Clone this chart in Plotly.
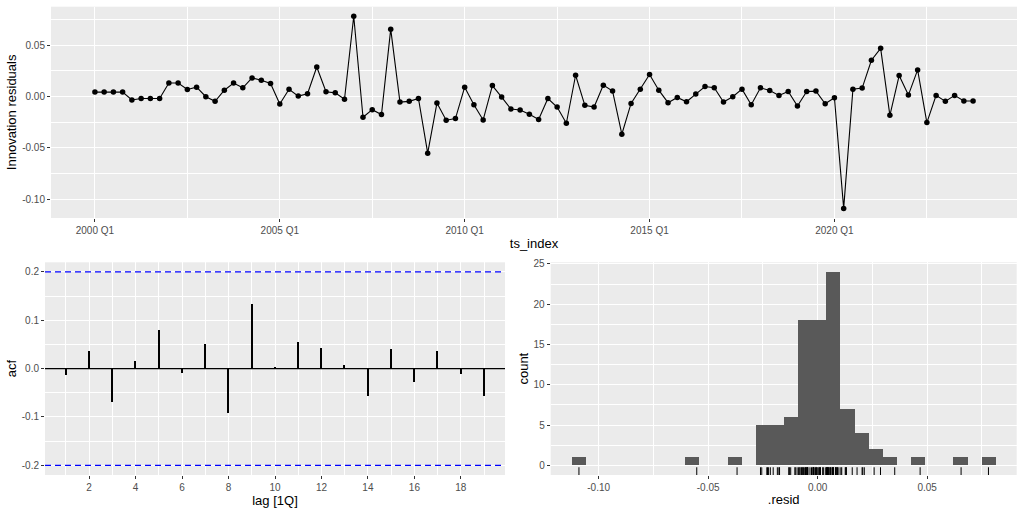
import numpy as np
import plotly.graph_objects as go

# ---------------- data ----------------
years = list(range(2000, 2024))
quarters = [f"{y} Q{q}" for y in years for q in range(1, 5)]

resid = [
    0.0042, 0.0042, 0.0042, 0.0042, -0.0035, -0.0020, -0.0020, -0.0020,
    0.0130, 0.0130, 0.0068, 0.0090, -0.0003, -0.0048, 0.0060, 0.0130,
    0.0084, 0.0180, 0.0158, 0.0126, -0.0074, 0.0070, 0.0003, 0.0026,
    0.0287, 0.0045, 0.0035, -0.0028, 0.0780, -0.0203, -0.0129, -0.0177,
    0.0655, -0.0055, -0.0048, -0.0020, -0.0552, -0.0065, -0.0232, -0.0216,
    0.0090, -0.0081, -0.0229, 0.0106, -0.0006, -0.0123, -0.0132, -0.0174,
    -0.0224, -0.0020, -0.0103, -0.0261, 0.0206, -0.0087, -0.0103, 0.0110,
    0.0052, -0.0368, -0.0068, 0.0071, 0.0213, 0.0061, -0.0061, -0.0010,
    -0.0052, 0.0023, 0.0097, 0.0084, -0.0055, -0.0003, 0.0071, -0.0081,
    0.0084, 0.0058, 0.0010, 0.0048, -0.0094, 0.0048, 0.0052, -0.0071,
    -0.0013, -0.1090, 0.0071, 0.0081, 0.0352, 0.0468, -0.0184, 0.0203,
    0.0013, 0.0258, -0.0255, 0.0010, -0.0048, 0.0010, -0.0045, -0.0045,
]

acf_lags = list(range(1, 20))
acf_values = [-0.0145, 0.0366, -0.0690, 0.0145, 0.0800, -0.0097, 0.0500,
              -0.0920, 0.1330, 0.0010, 0.0540, 0.0430, 0.0076, -0.0566,
              0.0400, -0.0280, 0.0360, -0.0124, -0.0580]

top_x_ticklabels = ["2000 Q1", "2005 Q1", "2010 Q1", "2015 Q1", "2020 Q1"]
top_y_ticks = [-0.10, -0.05, 0.00, 0.05]
top_y_ticklabels = ["-0.10", "-0.05", "0.00", "0.05"]
acf_x_ticks = [2, 4, 6, 8, 10, 12, 14, 16, 18]
acf_y_ticks = [-0.2, -0.1, 0.0, 0.1, 0.2]
acf_y_ticklabels = ["-0.2", "-0.1", "0.0", "0.1", "0.2"]
hist_x_ticks = [-0.10, -0.05, 0.00, 0.05]
hist_x_ticklabels = ["-0.10", "-0.05", "0.00", "0.05"]
hist_y_ticks = [0, 5, 10, 15, 20, 25]

# ---------------- derived ----------------
r = np.array(resid)
n = len(r)
idx = np.arange(n)
ci = 1.96 / np.sqrt(n)

nbins = 30
bw = (r.max() - r.min()) / (nbins - 1)
bstart = r.min() - bw / 2
bend = r.max() + bw / 2
counts, _ = np.histogram(r, bins=np.linspace(bstart, bend, nbins + 1))

def expand(lo, hi, f=0.05):
    s = hi - lo
    return [lo - f * s, hi + f * s]

top_xr = expand(0, n - 1)
top_yr = expand(r.min(), r.max())
acf_xr = expand(min(acf_lags), max(acf_lags))
acf_yr = expand(-ci, ci)
hist_xr = expand(bstart, bend)
hist_yr = expand(0, counts.max())
rug_y = hist_yr[0] + 0.015 * (hist_yr[1] - hist_yr[0])

top_tickvals = [quarters.index(t) for t in top_x_ticklabels]
top_minor = [(a + b) / 2 for a, b in zip(top_tickvals[:-1], top_tickvals[1:])] + [top_tickvals[-1] + 10]

def mids(v, lo, hi):
    step = v[1] - v[0]
    ext = [v[0] - step] + list(v) + [v[-1] + step]
    m = [(a + b) / 2 for a, b in zip(ext[:-1], ext[1:])]
    return [x for x in m if lo <= x <= hi]

BG = "#EBEBEB"
TICKFONT = dict(family="Liberation Sans, Arial, sans-serif", size=10, color="#4D4D4D")
TITLEFONT = dict(family="Liberation Sans, Arial, sans-serif", size=13, color="black")

def axis(domain, rng, tickvals, ticktext, minorvals, anchor, title, standoff):
    return dict(
        domain=domain, range=rng, anchor=anchor, automargin=False,
        tickmode="array", tickvals=tickvals, ticktext=ticktext,
        showgrid=True, gridcolor="white", gridwidth=1.3,
        minor=dict(tickvals=minorvals, showgrid=True, gridcolor="white", gridwidth=0.6, ticks=""),
        ticks="outside", ticklen=3, tickwidth=1, tickcolor="#333333",
        tickfont=TICKFONT, zeroline=False, showline=False,
        title=dict(text=title, font=TITLEFONT, standoff=standoff),
    )

fig = go.Figure()
fig.add_trace(go.Scatter(x=idx, y=r, mode="lines+markers",
                         line=dict(color="black", width=1.1),
                         marker=dict(color="black", size=5.5),
                         xaxis="x", yaxis="y", showlegend=False))
fig.add_trace(go.Bar(x=acf_lags, y=acf_values, width=0.065,
                     marker=dict(color="black", line=dict(width=0)),
                     xaxis="x2", yaxis="y2", showlegend=False))
fig.add_trace(go.Histogram(x=r, xbins=dict(start=bstart, end=bend + 1e-9, size=bw),
                           marker=dict(color="#595959", line=dict(width=0)),
                           xaxis="x3", yaxis="y3", showlegend=False))
fig.add_trace(go.Scatter(x=r, y=[rug_y] * n, mode="markers",
                         marker=dict(symbol="line-ns", size=6.5,
                                     line=dict(width=1, color="black")),
                         xaxis="x3", yaxis="y3", showlegend=False))

top_dom_y = [1 - 218 / 512, 1 - 6.7 / 512]
bot_dom_y = [1 - 475 / 512, 1 - 262.3 / 512]

fig.update_layout(
    template="none",
    width=1024, height=512,
    margin=dict(l=0, r=0, t=0, b=0),
    paper_bgcolor="white",
    plot_bgcolor=BG,
    bargap=0,
    showlegend=False,
    xaxis=axis([51 / 1024, 1017 / 1024], top_xr, top_tickvals, top_x_ticklabels,
               top_minor, "y", "ts_index", 3),
    yaxis=axis(top_dom_y, top_yr, top_y_ticks, top_y_ticklabels,
               mids(top_y_ticks, *top_yr), "x", "Innovation residuals", 2),
    xaxis2=axis([45 / 1024, 505 / 1024], acf_xr, acf_x_ticks, [str(v) for v in acf_x_ticks],
                mids(acf_x_ticks, *acf_xr), "y2", "lag [1Q]", 2),
    yaxis2=axis(bot_dom_y, acf_yr, acf_y_ticks, acf_y_ticklabels,
                mids(acf_y_ticks, *acf_yr), "x2", "acf", 2),
    xaxis3=axis([550.7 / 1024, 1016.7 / 1024], hist_xr, hist_x_ticks, hist_x_ticklabels,
                mids(hist_x_ticks, *hist_xr), "y3", ".resid", 2),
    yaxis3=axis(bot_dom_y, hist_yr, hist_y_ticks, [str(v) for v in hist_y_ticks],
                mids(hist_y_ticks, *hist_yr), "x3", "count", 2),
)

fig.add_shape(type="line", xref="x2 domain", x0=0, x1=1, yref="y2", y0=0, y1=0,
              line=dict(color="black", width=1.1))
for s in (-1, 1):
    fig.add_shape(type="line", xref="x2 domain", x0=0, x1=1, yref="y2", y0=s * ci, y1=s * ci,
                  line=dict(color="#0000FF", width=1.3, dash="6px,4px"))

fig.write_html("out.html",
               config={"displayModeBar": False},
               post_script="document.body.style.margin='0';document.body.style.padding='0';"
                           "document.body.style.overflow='hidden';")
